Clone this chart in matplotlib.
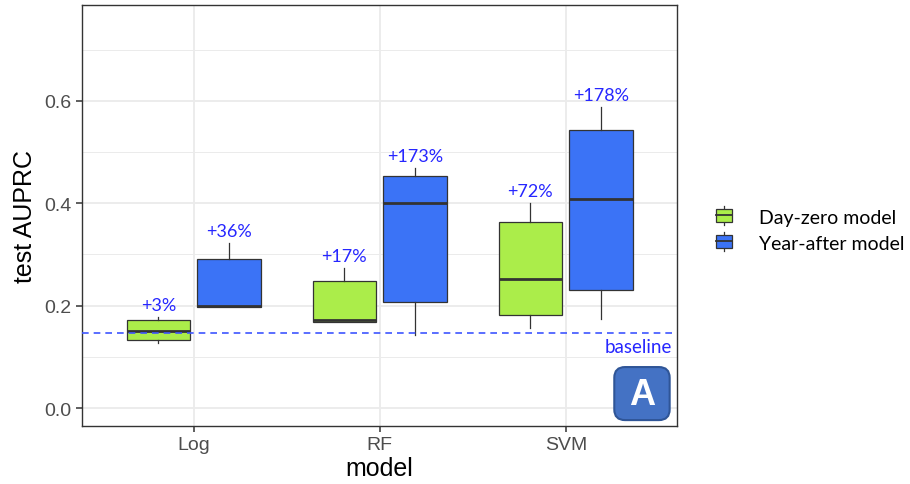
import matplotlib
matplotlib.use('Agg')
import matplotlib.pyplot as plt
from matplotlib.patches import Rectangle, FancyBboxPatch
from matplotlib.lines import Line2D
from matplotlib.legend_handler import HandlerBase

models = ['Log', 'RF', 'SVM']
groups = ['Day-zero model', 'Year-after model']
baseline = 0.147

# gain of the median over the baseline, in percent
gain = {
    'Day-zero model': [3, 17, 72],
    'Year-after model': [36, 173, 178],
}
# whisker low, box low, box high, whisker high
day_zero = [
    [0.128, 0.133, 0.172, 0.178],
    [0.168, 0.168, 0.248, 0.274],
    [0.157, 0.181, 0.364, 0.401],
]
year_after = [
    [0.198, 0.198, 0.292, 0.322],
    [0.142, 0.207, 0.453, 0.468],
    [0.173, 0.231, 0.543, 0.588],
]
stats_by_group = {'Day-zero model': day_zero, 'Year-after model': year_after}

fills = {'Day-zero model': '#abed4a', 'Year-after model': '#3b73f6'}
offsets = {'Day-zero model': -0.19, 'Year-after model': 0.19}
edge = '#333333'
label_blue = '#2626ff'
calib = ['Lato', 'DejaVu Sans']

plt.rcParams['font.family'] = ['Liberation Sans', 'DejaVu Sans']

fig = plt.figure(figsize=(9.1, 4.85), dpi=100)
ax = fig.add_axes([0.0901, 0.1196, 0.6543, 0.868])

bxp_stats = []
for g in groups:
    for i, m in enumerate(models):
        wlo, q1, q3, whi = stats_by_group[g][i]
        med = baseline * (1 + gain[g][i] / 100)
        bxp_stats.append(dict(whislo=wlo, q1=q1, med=med, q3=q3, whishi=whi,
                              fliers=[], label=m))

positions = [i + 1 + offsets[g] for g in groups for i in range(len(models))]
bp = ax.bxp(bxp_stats, positions=positions, widths=0.34, patch_artist=True,
            showcaps=False, manage_ticks=False,
            boxprops=dict(edgecolor=edge, linewidth=0.9),
            whiskerprops=dict(color=edge, linewidth=0.9),
            medianprops=dict(color=edge, linewidth=2.0))
for k, box in enumerate(bp['boxes']):
    box.set_facecolor(fills[groups[k // len(models)]])
    box.set_zorder(3)
for artist in bp['whiskers'] + bp['medians']:
    artist.set_zorder(3)

# percentage labels above each whisker
for g in groups:
    for i in range(len(models)):
        top = stats_by_group[g][i][3]
        ax.annotate('+%d%%' % gain[g][i], (i + 1 + offsets[g], top),
                    xytext=(0, 3), textcoords='offset points',
                    ha='center', va='bottom', color=label_blue, fontsize=13,
                    family=calib, zorder=5)

ax.axhline(baseline, color='#3d55ff', linestyle=(0, (4, 3)), linewidth=1.2, zorder=4)
ax.text(3.57, 0.121, 'baseline', color=label_blue, fontsize=13.5, ha='right',
        va='center', family=calib)

ax.set_xlim(0.4, 3.6)
ax.set_ylim(-0.035, 0.787)
ax.set_xticks([1, 2, 3])
ax.set_xticklabels(models)
ax.set_yticks([0.0, 0.2, 0.4, 0.6])
ax.set_yticklabels(['0.0', '0.2', '0.4', '0.6'])
ax.set_yticks([0.1, 0.3, 0.5, 0.7], minor=True)
ax.grid(True, which='major', color='#ebebeb', linewidth=1.3, zorder=0)
ax.grid(True, which='minor', axis='y', color='#ebebeb', linewidth=0.7, zorder=0)
ax.set_axisbelow(True)
ax.tick_params(axis='both', which='major', length=4, width=1.1, color='#333333',
               labelcolor='#4d4d4d', labelsize=14)
ax.tick_params(axis='y', which='minor', length=0)
for s in ax.spines.values():
    s.set_color('#333333')
    s.set_linewidth(1.0)
ax.set_xlabel('model', fontsize=18, labelpad=2)
ax.set_ylabel('test AUPRC', fontsize=18, labelpad=5)

# panel badge
ax.add_patch(FancyBboxPatch((0.894, 0.014), 0.093, 0.126, transform=ax.transAxes,
                            boxstyle='round,pad=0,rounding_size=0.018',
                            facecolor='#4472c4', edgecolor='#2f5597',
                            linewidth=1.5, zorder=6, mutation_aspect=1.4))
ax.text(0.9405, 0.074, 'A', transform=ax.transAxes, ha='center', va='center',
        color='white', fontsize=26, fontweight='bold', zorder=7)


class BoxKey(HandlerBase):
    def create_artists(self, legend, orig, xd, yd, width, height, fontsize, trans):
        cx = xd + width / 2
        w = width
        rect = Rectangle((cx - w / 2, yd + height * 0.05), w, height * 0.9,
                         facecolor=orig.get_facecolor(), edgecolor=edge,
                         linewidth=0.9, transform=trans)
        mid = Line2D([cx - w / 2, cx + w / 2], [yd + height / 2] * 2,
                     color=edge, linewidth=1.3, transform=trans)
        up = Line2D([cx, cx], [yd + height * 0.95, yd + height * 1.15],
                    color=edge, linewidth=0.9, transform=trans)
        dn = Line2D([cx, cx], [yd - height * 0.15, yd + height * 0.05],
                    color=edge, linewidth=0.9, transform=trans)
        return [up, dn, rect, mid]


handles = [Rectangle((0, 0), 1, 1, facecolor=fills[g]) for g in groups]
fig.legend(handles, groups, handler_map={Rectangle: BoxKey()},
           loc='center left', bbox_to_anchor=(0.768, 0.522), frameon=False,
           prop={'family': calib, 'size': 14},
           handlelength=0.8, handleheight=0.8, handletextpad=1.4, labelspacing=0.45)

fig.savefig('out.png', dpi=100)
